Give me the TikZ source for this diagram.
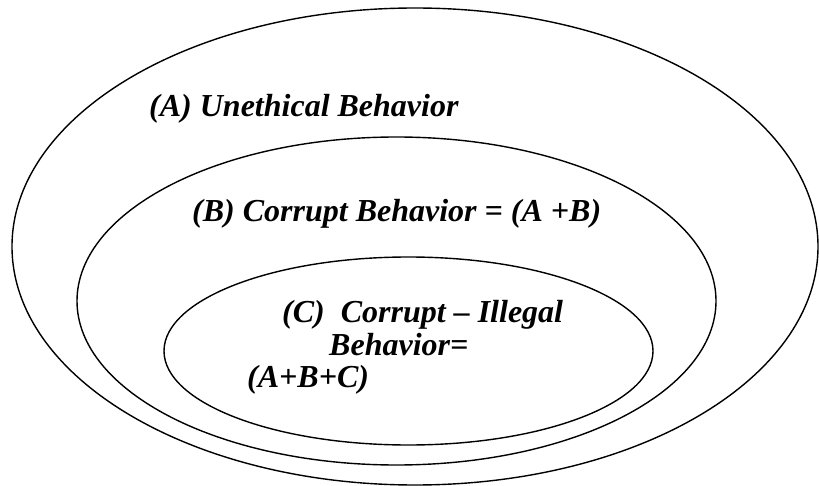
\documentclass[tikz,border=0pt]{standalone}
\usepackage{fontspec}
\setmainfont{Liberation Serif}
\begin{document}
\begin{tikzpicture}[x=1pt,y=-1pt,
  ring/.style={draw=black,line width=1.4pt},
  caption/.style={anchor=base west,inner sep=0pt,
    font=\fontsize{32}{33}\selectfont\bfseries\itshape}]
\useasboundingbox (0,0) rectangle (819,486);
% nested sets
\draw[ring] (415,246.5) ellipse [x radius=403pt, y radius=238.5pt];
\draw[ring] (396.5,301) ellipse [x radius=319.5pt, y radius=164pt];
\draw[ring] (408.5,351) ellipse [x radius=244.5pt, y radius=94pt];
% set labels
\node[caption] (unethical) at (149,117) {(A) Unethical Behavior};
\node[caption] (corrupt) at (192,222) {(B) Corrupt Behavior = (A +B)};
\node[caption] (illegal1) at (282,323) {(C)\ \ Corrupt – Illegal};
\node[caption] (illegal2) at (329,355) {Behavior=};
\node[caption] (illegal3) at (247,387) {(A+B+C)};
\end{tikzpicture}
\end{document}
